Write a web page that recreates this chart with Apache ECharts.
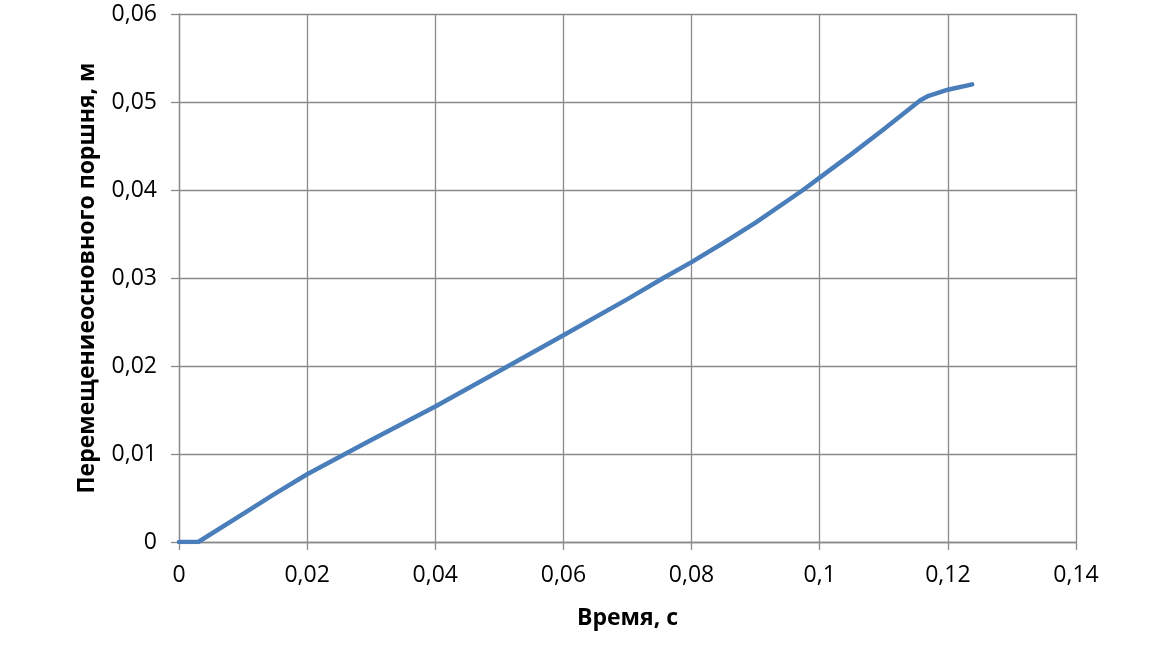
<!DOCTYPE html>
<html>
<head>
<meta charset="utf-8">
<script src="https://cdn.jsdelivr.net/npm/echarts@6/dist/echarts.min.js"></script>
<style>html,body{margin:0;padding:0;background:#fff}#c{width:1169px;height:651px}</style>
</head>
<body>
<div id="c"></div>
<script>
const timeValues = [0, 0.003, 0.01, 0.015, 0.02, 0.0259, 0.03, 0.04, 0.0514, 0.06, 0.07, 0.0756, 0.08, 0.085, 0.09, 0.0974, 0.1, 0.105, 0.11, 0.1157, 0.117, 0.12, 0.1238];
const displacementValues = [0, 0, 0.0032, 0.0055, 0.0077, 0.01, 0.0116, 0.0154, 0.02, 0.0235, 0.0276, 0.03, 0.0318, 0.034, 0.0363, 0.04, 0.0414, 0.0441, 0.0469, 0.0502, 0.0507, 0.0514, 0.052];
const xTitle = 'Время, с';
const yTitle = 'Перемещениеосновного поршня, м';

const fmt = v => String(Math.round(v * 100) / 100).replace('.', ',');
const chart = echarts.init(document.getElementById('c'));
const gridColor = '#8a8a8a';
const font = 'Open Sans';
chart.setOption({
  animation: false,
  grid: {left: 179, right: 93, top: 14, bottom: 109},
  xAxis: {
    type: 'value', min: 0, max: 0.14, interval: 0.02,
    name: xTitle, nameLocation: 'middle', nameGap: 65,
    nameTextStyle: {fontFamily: font, fontWeight: 'bold', fontSize: 23, color: '#000'},
    axisLine: {show: true, lineStyle: {color: gridColor, width: 1.3}},
    axisTick: {show: true, length: 8, lineStyle: {color: gridColor, width: 1.3}},
    axisLabel: {formatter: fmt, margin: 22, fontFamily: font, fontSize: 23, color: '#000'},
    splitLine: {show: true, lineStyle: {color: gridColor, width: 1.3}}
  },
  yAxis: {
    type: 'value', min: 0, max: 0.06, interval: 0.01,
    name: yTitle, nameLocation: 'middle', nameGap: 80,
    nameTextStyle: {fontFamily: font, fontWeight: 'bold', fontSize: 23, color: '#000'},
    axisLine: {show: true, lineStyle: {color: gridColor, width: 1.3}},
    axisTick: {show: true, length: 8, lineStyle: {color: gridColor, width: 1.3}},
    axisLabel: {formatter: fmt, margin: 22, fontFamily: font, fontSize: 23, color: '#000'},
    splitLine: {show: true, lineStyle: {color: gridColor, width: 1.3}}
  },
  series: [{
    type: 'line',
    data: timeValues.map((t, i) => [t, displacementValues[i]]),
    showSymbol: false,
    smooth: false,
    lineStyle: {color: '#4a7ebb', width: 4.5, cap: 'round', join: 'round'}
  }]
});
</script>
</body>
</html>
